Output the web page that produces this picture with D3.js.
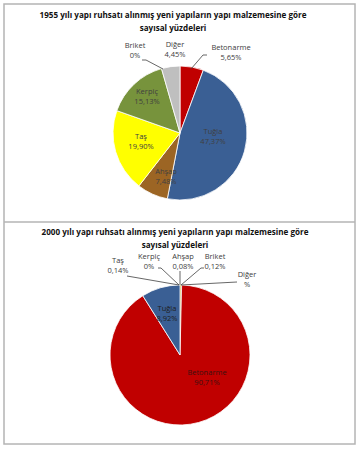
<!DOCTYPE html>
<html>
<head>
<meta charset="utf-8">
<script src="https://cdn.jsdelivr.net/npm/d3@7"></script>
<style>
  body { margin: 0; background: #fff; }
  svg { display: block; font-family: "Open Sans", "DejaVu Sans", sans-serif; }
</style>
</head>
<body>
<svg id="chart" width="360" height="450"></svg>
<script>
// 1955 data (clockwise from 12 o'clock)
const cats1955 = ['Betonarme', 'Tuğla', 'Ahşap', 'Taş', 'Kerpiç', 'Briket', 'Diğer']
const vals1955 = [5.65, 47.37, 7.48, 19.90, 15.13, 0, 4.45]
const labels1955 = ['5,65%', '47,37%', '7,48%', '19,90%', '15,13%', '0%', '4,45%']

// 2000 data (clockwise from 12 o'clock)
const cats2000 = ['Taş', 'Kerpiç', 'Ahşap', 'Briket', 'Diğer', 'Betonarme', 'Tuğla']
const vals2000 = [0.14, 0, 0.08, 0.12, 0.03, 90.71, 8.92]
const labels2000 = ['0,14%', '0%', '0,08%', '0,12%', '%', '90,71%', '8,92%']

const colors = {
  'Betonarme': '#c00000',
  'Tuğla': '#3a5f94',
  'Ahşap': '#9c6524',
  'Taş': '#ffff00',
  'Kerpiç': '#77933c',
  'Briket': '#8c8c8c',
  'Diğer': '#bfbfbf'
}

const svg = d3.select('#chart')

// frame
svg.append('rect')
  .attr('x', 4).attr('y', 4).attr('width', 351).attr('height', 440)
  .attr('fill', 'none').attr('stroke', '#b4b4b4').attr('stroke-width', 1.5)
svg.append('line')
  .attr('x1', 4).attr('x2', 355).attr('y1', 222).attr('y2', 222)
  .attr('stroke', '#b4b4b4').attr('stroke-width', 1.5)

function title(lines, cx, y0) {
  const t = svg.append('text')
    .attr('text-anchor', 'middle')
    .attr('font-size', 8.1).attr('font-weight', 'bold').attr('fill', '#111')
  lines.forEach((l, i) => {
    t.append('tspan').attr('x', cx).attr('y', y0 + i * 13).text(l)
  })
}

function label(g, x, y, lines, fill) {
  const t = g.append('text')
    .attr('text-anchor', 'middle')
    .attr('font-size', 7.5).attr('fill', fill || '#404040')
  lines.forEach((l, i) => {
    t.append('tspan').attr('x', x).attr('y', y + i * 10).text(l)
  })
}

function drawPie(cats, vals, cx, cy, r) {
  const pie = d3.pie().sort(null).value(d => d.v)
  const data = pie(cats.map((c, i) => ({ c, v: vals[i] })))
  const arc = d3.arc().innerRadius(0).outerRadius(r)
  const g = svg.append('g').attr('transform', `translate(${cx},${cy})`)
  g.selectAll('path')
    .data(data)
    .join('path')
    .attr('d', arc)
    .attr('fill', d => colors[d.data.c])
    .attr('stroke', '#fff')
    .attr('stroke-width', d => (d.endAngle - d.startAngle > 0.05 ? 0.8 : 0))
  return g
}

// 1955 chart
title(['1955 yılı yapı ruhsatı alınmış yeni yapıların yapı malzemesine göre',
  'sayısal yüzdeleri'], 173, 18)
const g1 = drawPie(cats1955, vals1955, 180, 133, 67)
const lead1 = g1.append('g').attr('stroke', '#404040').attr('stroke-width', 0.8).attr('fill', 'none')
lead1.append('polyline').attr('points', '11,-64 23,-78 27,-78')
lead1.append('polyline').attr('points', '-17,-64 -34,-73 -38,-73')
label(g1, 51, -83, [cats1955[0], labels1955[0]])
label(g1, 33, 1, [cats1955[1], labels1955[1]])
label(g1, -14, 41, [cats1955[2], labels1955[2]])
label(g1, -39, 6, [cats1955[3], labels1955[3]])
label(g1, -33, -39, [cats1955[4], labels1955[4]])
label(g1, -45, -85, [cats1955[5], labels1955[5]])
label(g1, -5, -86, [cats1955[6], labels1955[6]])

// 2000 chart
title(['2000 yılı yapı ruhsatı alınmış yeni yapıların yapı malzemesine göre',
  'sayısal yüzdeleri'], 175, 235)
const g2 = drawPie(cats2000, vals2000, 180, 355, 70)
const pieTop = -70
const lead2 = g2.append('g').attr('stroke', '#404040').attr('stroke-width', 0.8).attr('fill', 'none')
lead2.append('polyline').attr('points', `-53,-79 ${-1},${pieTop}`)
lead2.append('polyline').attr('points', `-22,-87 -19,-87 -1,${pieTop}`)
lead2.append('polyline').attr('points', `0,-84 0,${pieTop}`)
lead2.append('polyline').attr('points', `24,-87 21,-87 1,${pieTop}`)
lead2.append('polyline').attr('points', `57,-73 1,${pieTop}`)
label(g2, -62, -92, [cats2000[0], labels2000[0]])
label(g2, -31, -96, [cats2000[1], labels2000[1]])
label(g2, 3, -96, [cats2000[2], labels2000[2]])
label(g2, 35, -96, [cats2000[3], labels2000[3]])
label(g2, 67, -78, [cats2000[4], labels2000[4]])
label(g2, 27, 20, [cats2000[5], labels2000[5]], '#3a1010')
label(g2, -13, -44, [cats2000[6], labels2000[6]], '#202020')
</script>
</body>
</html>
